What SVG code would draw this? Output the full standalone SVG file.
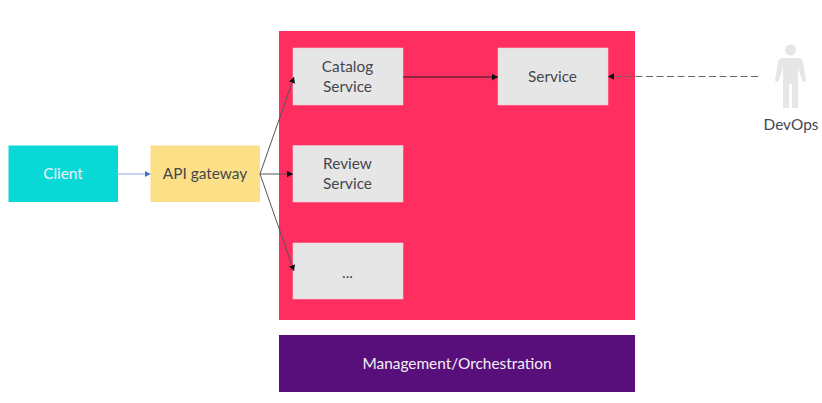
<svg xmlns="http://www.w3.org/2000/svg" width="822" height="403" viewBox="0 0 822 403">
<style>
text{font-family:Lato,"Liberation Sans",sans-serif;font-size:15.400px;text-anchor:middle}
.svc{fill:#e7e6e6;stroke:#f3c9d2;stroke-width:.6}
.dark{fill:#44474f}
.light{fill:#f4f0f6}
.c{fill:none;stroke:#555;stroke-width:1}
</style>
<defs>
<marker id="ah" markerUnits="userSpaceOnUse" markerWidth="7" markerHeight="7" refX="6" refY="3.500" orient="auto"><path d="M0 .3L6 3.500L0 6.700z" fill="#111"/></marker>
<marker id="ab" markerUnits="userSpaceOnUse" markerWidth="7" markerHeight="7" refX="6" refY="3.500" orient="auto"><path d="M0 .3L6 3.500L0 6.700z" fill="#4472c4"/></marker>
</defs>
<rect width="822" height="403" fill="#fff"/>
<g id="services-area"><rect x="279" y="31" width="356" height="289" fill="#fe2e60"/></g>
<g id="management"><rect x="279" y="335" width="356" height="57" fill="#590f7b"/><text class="light" x="457" y="369">Management/Orchestration</text></g>
<g id="client"><rect x="8.500" y="145.500" width="109.500" height="56.500" fill="#08d9d6"/><text class="light" x="63" y="179">Client</text></g>
<g id="api-gateway"><rect x="150.500" y="145.500" width="109.500" height="56.500" fill="#fbe088"/><text class="dark" x="205" y="179">API gateway</text></g>
<g id="catalog"><rect class="svc" x="293" y="48" width="110" height="57"/><text class="dark" x="347.500" y="72">Catalog</text><text class="dark" x="347.500" y="92">Service</text></g>
<g id="review"><rect class="svc" x="293" y="145.500" width="110" height="56.500"/><text class="dark" x="347.500" y="169">Review</text><text class="dark" x="347.500" y="189">Service</text></g>
<g id="more"><rect class="svc" x="293" y="243" width="110" height="56"/><text class="dark" x="347.500" y="278">...</text></g>
<g id="service"><rect class="svc" x="498" y="48" width="110" height="57"/><text class="dark" x="552.500" y="82">Service</text></g>
<g id="devops"><g fill="#e7e6e6"><circle cx="790.500" cy="50" r="5.500"/><path d="M783 58H798Q802 58 803 62L806 80Q806 82 804 82Q802 82 802 80L798 68V108H792V84H789V108H783V68L779 80Q778 82 777 82Q775 82 775 80L778 62Q779 58 783 58Z"/></g><text class="dark" x="791" y="130">DevOps</text></g>
<g id="connectors">
<path d="M118 174H150.500" fill="none" stroke="#8faadc" stroke-width="1.200" marker-end="url(#ab)"/>
<path class="c" d="M260 174L294 77" marker-end="url(#ah)"/>
<path class="c" d="M260 174H293" marker-end="url(#ah)"/>
<path class="c" d="M260 174L294 271" marker-end="url(#ah)"/>
<path d="M403 77H498" fill="none" stroke="#222" stroke-width="1" marker-end="url(#ah)"/>
<path d="M758 76.500H608" fill="none" stroke="#666" stroke-width="1" stroke-dasharray="7 3.500" marker-end="url(#ah)"/>
</g>
</svg>
